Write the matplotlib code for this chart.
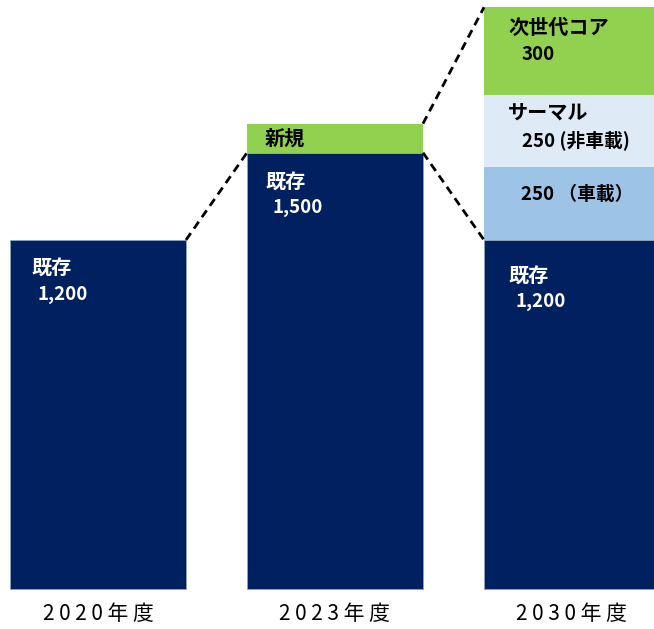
import matplotlib
matplotlib.use("Agg")
import matplotlib.pyplot as plt
import numpy as np

plt.rcParams['font.family'] = ['Noto Sans CJK JP', 'DejaVu Sans']

# ---- data ----
years = ['2020年度', '2023年度', '2030年度']
existing = [1200, 1500, 1200]
new = [0, 100, 0]
vehicle = [0, 0, 250]
nonvehicle = [0, 0, 250]
nextgen = [0, 0, 300]

NAVY = '#002060'
GREEN = '#92D050'
LBLUE = '#9DC3E6'
PALE = '#DEEBF7'

fig = plt.figure(figsize=(6.54, 6.29), dpi=100)
ax = fig.add_axes([0, 0, 1, 1])

x = np.arange(len(years))
w = 0.7426
ex = np.array(existing)
nw = np.array(new)
vh = np.array(vehicle)
nv = np.array(nonvehicle)
ng = np.array(nextgen)

ax.bar(x, ex, w, color=NAVY, edgecolor='#8EA3C8', linewidth=0.6)
ax.bar(x[1], nw[1], w, bottom=ex[1], color=GREEN, linewidth=0)
ax.bar(x[2], vh[2], w, bottom=ex[2], color=LBLUE, linewidth=0)
ax.bar(x[2], nv[2], w, bottom=ex[2] + vh[2], color=PALE, linewidth=0)
ax.bar(x[2], ng[2], w, bottom=ex[2] + vh[2] + nv[2], color=GREEN, linewidth=0)

ax.set_xlim(-0.4135, 2.346)
ax.set_ylim(-137.5, 2025)
ax.axis('off')

# dashed connectors
tot1 = ex[1] + nw[1]
tot2 = ex[2] + vh[2] + nv[2] + ng[2]
kw = dict(color='black', linestyle=(0, (3, 2)), linewidth=2)
ax.plot([x[0] + w / 2, x[1] - w / 2], [ex[0], ex[1]], **kw)
ax.plot([x[1] + w / 2, x[2] - w / 2], [tot1, tot2], **kw)
ax.plot([x[1] + w / 2, x[2] - w / 2], [ex[1], ex[2]], **kw)

tk = dict(fontsize=14.5, fontweight='bold', va='center', ha='left')
tn = dict(fontsize=13.5, fontweight='bold', va='center', ha='left')
px = 1 / 237.0  # data units per pixel (x)
py = 1 / 0.2908  # data units per pixel (y)

def lx(i, off):
    return x[i] - w / 2 + off * px

# 2020
ax.text(lx(0, 21), ex[0] - 28 * py, '既存', color='white', **tk)
ax.text(lx(0, 27), ex[0] - 55 * py, '1,200', color='white', **tn)
# 2023
ax.text(lx(1, 18), ex[1] + nw[1] / 2, '新規', color='black', **tk)
ax.text(lx(1, 18), ex[1] - 29 * py, '既存', color='white', **tk)
ax.text(lx(1, 25), ex[1] - 55 * py, '1,500', color='white', **tn)
# 2030
ax.text(lx(2, 24), tot2 - 20 * py, '次世代コア', color='black', **tk)
ax.text(lx(2, 38), tot2 - 47 * py, '300', color='black', **tn)
ax.text(lx(2, 24), ex[2] + vh[2] + nv[2] - 18 * py, 'サーマル', color='black', **tk)
ax.text(lx(2, 38), ex[2] + vh[2] + nv[2] - 46 * py, '250 (非車載)', color='black', **tn)
ax.text(lx(2, 37), ex[2] + vh[2] - 27 * py, '250 （車載）', color='black', **tn)
ax.text(lx(2, 24), ex[2] - 36 * py, '既存', color='white', **tk)
ax.text(lx(2, 31), ex[2] - 62 * py, '1,200', color='white', **tn)

# category labels
for i, yr in enumerate(years):
    ax.text(x[i], -25 * py, ' '.join(yr), ha='center', va='center',
            fontsize=15, color='black')

fig.savefig('out.png', dpi=100)
